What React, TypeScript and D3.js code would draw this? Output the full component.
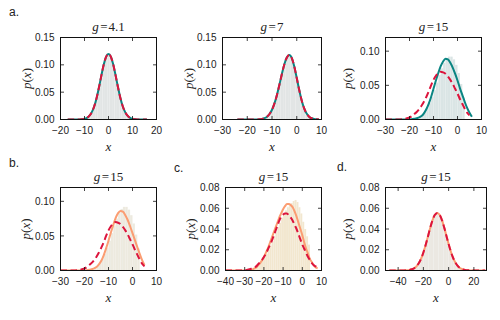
import React from 'react';
import * as d3 from 'd3';

// ---- data (p(x) values on integer / even grids) ----

// a. g = 4.1
const gridA1 = d3.range(-17, 17);
const densA1 = [0, 0, 0, 0, 0.0001, 0.0002, 0.0005, 0.0013, 0.003, 0.0066, 0.013, 0.0234, 0.0386, 0.0581, 0.0798, 0.1001, 0.1147, 0.12, 0.1147, 0.1001, 0.0798, 0.0581, 0.0386, 0.0234, 0.013, 0.0066, 0.003, 0.0013, 0.0005, 0.0002, 0.0001, 0, 0, 0];

// a. g = 7
const gridA2 = d3.range(-24, 10);
const densA2 = [0, 0, 0, 0, 0, 0, 0, 0.0001, 0.0002, 0.0005, 0.0011, 0.0025, 0.0052, 0.01, 0.0178, 0.0294, 0.045, 0.0637, 0.0834, 0.1011, 0.1135, 0.118, 0.1124, 0.0971, 0.076, 0.054, 0.0348, 0.0203, 0.0108, 0.0052, 0.0023, 0.0009, 0.0003, 0.0001];

// g = 15 (a. teal fit, b. orange fit, shared dashed reference and histogram)
const gridFitA3 = d3.range(-30, 7);
const fitA3 = [0, 0, 0, 0, 0, 0, 0, 0, 0, 0, 0, 0.0005, 0.001, 0.002, 0.003, 0.005, 0.009, 0.015, 0.023, 0.033, 0.045, 0.057, 0.068, 0.078, 0.085, 0.089, 0.088, 0.083, 0.076, 0.067, 0.057, 0.046, 0.036, 0.026, 0.017, 0.01, 0.004];
const gridFitB = d3.range(-30, 6);
const fitB = [0, 0, 0, 0, 0, 0, 0, 0, 0, 0, 0, 0.0005, 0.001, 0.002, 0.003, 0.005, 0.009, 0.014, 0.022, 0.032, 0.043, 0.055, 0.066, 0.076, 0.083, 0.086, 0.085, 0.08, 0.073, 0.064, 0.054, 0.044, 0.034, 0.024, 0.015, 0.008];
const gridRef15 = d3.range(-30, 6);
const ref15 = [0, 0, 0, 0, 0, 0, 0, 0.0005, 0.001, 0.002, 0.003, 0.005, 0.008, 0.011, 0.015, 0.02, 0.026, 0.033, 0.041, 0.05, 0.058, 0.064, 0.068, 0.07, 0.069, 0.067, 0.063, 0.058, 0.052, 0.045, 0.038, 0.03, 0.023, 0.016, 0.01, 0.006];
const histEdges15 = d3.range(-18, 3);
const hist15 = [0.001, 0.002, 0.004, 0.007, 0.011, 0.017, 0.024, 0.033, 0.043, 0.054, 0.065, 0.075, 0.083, 0.089, 0.092, 0.092, 0.088, 0.08, 0.068, 0.052, 0.032];

// c. g = 15
const gridC = d3.range(-40, 9);
const fitC = [0, 0, 0, 0, 0, 0, 0, 0, 0, 0, 0, 0, 0, 0.0005, 0.001, 0.002, 0.003, 0.005, 0.007, 0.01, 0.013, 0.017, 0.021, 0.026, 0.031, 0.036, 0.041, 0.046, 0.051, 0.055, 0.059, 0.062, 0.064, 0.064, 0.063, 0.061, 0.057, 0.052, 0.046, 0.04, 0.034, 0.027, 0.021, 0.016, 0.011, 0.008, 0.005, 0.003, 0.002];
const refC = [0, 0, 0, 0, 0, 0, 0, 0, 0, 0, 0, 0.0005, 0.001, 0.0015, 0.002, 0.003, 0.004, 0.006, 0.008, 0.01, 0.013, 0.016, 0.02, 0.024, 0.028, 0.033, 0.038, 0.043, 0.048, 0.052, 0.054, 0.055, 0.055, 0.053, 0.051, 0.048, 0.044, 0.04, 0.035, 0.03, 0.025, 0.021, 0.017, 0.013, 0.01, 0.007, 0.005, 0.004, 0.003];
const histEdgesC = d3.range(-27, 4);
const histC = [0.001, 0.002, 0.003, 0.004, 0.006, 0.008, 0.01, 0.013, 0.016, 0.02, 0.024, 0.028, 0.033, 0.037, 0.042, 0.046, 0.051, 0.055, 0.058, 0.061, 0.063, 0.065, 0.067, 0.068, 0.066, 0.061, 0.055, 0.047, 0.04, 0.033, 0.025];

// d. g = 15
const gridD = d3.range(-47, 30, 2);
const densD = [0, 0, 0, 0, 0, 0, 0.0001, 0.0002, 0.0005, 0.0012, 0.0024, 0.0047, 0.0084, 0.0138, 0.0212, 0.0299, 0.0392, 0.0476, 0.0534, 0.0555, 0.0534, 0.0476, 0.0392, 0.0299, 0.0212, 0.0138, 0.0084, 0.0047, 0.0024, 0.0012, 0.0005, 0.0002, 0.0001, 0, 0, 0, 0, 0, 0];

// tick values
const xTicksA1 = [-20, -10, 0, 10, 20];
const xTicks30 = [-30, -20, -10, 0, 10];
const xTicksC = [-40, -30, -20, -10, 0, 10];
const xTicksD = [-40, -20, 0, 20];
const yTicks15 = [0, 0.05, 0.1, 0.15];
const yTicks12 = [0, 0.05, 0.1];
const yTicks08 = [0, 0.02, 0.04, 0.06, 0.08];

const TEAL = '#0a8582';
const RED = '#dc143c';
const ORANGE = '#fb9d72';

const zip = (xs: number[], ys: number[]) => xs.map((v, i) => [v, ys[i]] as [number, number]);

type PanelSpec = {
  id: string;
  title: string;
  left: number; right: number; top: number; bottom: number;
  xDomain: [number, number]; yMax: number;
  xTicks: number[]; yTicks: number[]; yFmt: string;
  hist: { edges: number[]; width: number; values: number[]; color: string };
  solid: { pts: [number, number][]; color: string };
  dashed: [number, number][];
  ylabOff: number;
};

const panels: PanelSpec[] = [
  {
    id: 'a1', title: '4.1', left: 60.5, right: 156.5, top: 37.5, bottom: 119.5,
    xDomain: [-20, 20], yMax: 0.15, xTicks: xTicksA1, yTicks: yTicks15, yFmt: '.2f',
    hist: { edges: gridA1.map((v) => v - 0.5), width: 1, values: densA1, color: '#e2e5e5' },
    solid: { pts: zip(gridA1, densA1), color: TEAL }, dashed: zip(gridA1, densA1), ylabOff: 30,
  },
  {
    id: 'a2', title: '7', left: 222.5, right: 321.5, top: 37.5, bottom: 119.5,
    xDomain: [-30, 10], yMax: 0.15, xTicks: xTicks30, yTicks: yTicks15, yFmt: '.2f',
    hist: { edges: gridA2.map((v) => v - 0.5), width: 1, values: densA2, color: '#e2e5e5' },
    solid: { pts: zip(gridA2, densA2), color: TEAL }, dashed: zip(gridA2, densA2), ylabOff: 30,
  },
  {
    id: 'a3', title: '15', left: 385.5, right: 481.5, top: 37.5, bottom: 119.5,
    xDomain: [-30, 10], yMax: 0.12, xTicks: xTicks30, yTicks: yTicks12, yFmt: '.2f',
    hist: { edges: histEdges15, width: 1, values: hist15, color: '#dae5e5' },
    solid: { pts: zip(gridFitA3, fitA3), color: TEAL }, dashed: zip(gridRef15, ref15), ylabOff: 34,
  },
  {
    id: 'b', title: '15', left: 60.5, right: 156.5, top: 187.5, bottom: 270.5,
    xDomain: [-30, 10], yMax: 0.12, xTicks: xTicks30, yTicks: yTicks12, yFmt: '.2f',
    hist: { edges: histEdges15, width: 1, values: hist15, color: '#edeadf' },
    solid: { pts: zip(gridFitB, fitB), color: ORANGE }, dashed: zip(gridRef15, ref15), ylabOff: 31,
  },
  {
    id: 'c', title: '15', left: 225.5, right: 321.5, top: 187.5, bottom: 270.5,
    xDomain: [-40, 10], yMax: 0.08, xTicks: xTicksC, yTicks: yTicks08, yFmt: '.2f',
    hist: { edges: histEdgesC, width: 1, values: histC, color: '#f2e7cf' },
    solid: { pts: zip(gridC, fitC), color: ORANGE }, dashed: zip(gridC, refC), ylabOff: 31,
  },
  {
    id: 'd', title: '15', left: 385.5, right: 486.5, top: 187.5, bottom: 270.5,
    xDomain: [-50, 30], yMax: 0.08, xTicks: xTicksD, yTicks: yTicks08, yFmt: '.2f',
    hist: { edges: gridD.map((v) => v - 1), width: 2, values: densD, color: '#ebe8e2' },
    solid: { pts: zip(gridD, densD), color: ORANGE }, dashed: zip(gridD, densD), ylabOff: 34,
  },
];

const SANS = '"Liberation Sans", Arial, sans-serif';
const SERIF = '"Liberation Serif", "Times New Roman", serif';

function Panel({ p }: { p: PanelSpec }) {
  const x = d3.scaleLinear().domain(p.xDomain).range([p.left, p.right]);
  const y = d3.scaleLinear().domain([0, p.yMax]).range([p.bottom, p.top]);
  const line = d3
    .line<[number, number]>()
    .x((d) => x(d[0]))
    .y((d) => y(d[1]))
    .curve(d3.curveMonotoneX);
  const fmtY = d3.format(p.yFmt);
  const fmtX = d3.format('d');
  const cx = (p.left + p.right) / 2;
  const cy = (p.top + p.bottom) / 2;
  const tl = 3.5;

  return (
    <g>
      <defs>
        <clipPath id={`clip-${p.id}`}>
          <rect x={p.left} y={p.top} width={p.right - p.left} height={p.bottom - p.top} />
        </clipPath>
      </defs>
      <g clipPath={`url(#clip-${p.id})`}>
        {p.hist.edges.map((e, i) => (
          <rect
            key={i}
            x={x(e)}
            y={y(p.hist.values[i])}
            width={x(e + p.hist.width) - x(e)}
            height={y(0) - y(p.hist.values[i])}
            fill={p.hist.color}
            stroke="#ffffff"
            strokeOpacity={0.12}
            strokeWidth={0.4}
          />
        ))}
        <path d={line(p.solid.pts) ?? ''} fill="none" stroke={p.solid.color} strokeWidth={2} />
        <path d={line(p.dashed) ?? ''} fill="none" stroke={RED} strokeWidth={2} strokeDasharray="6.5,3.5" />
      </g>
      <rect x={p.left} y={p.top} width={p.right - p.left} height={p.bottom - p.top} fill="none" stroke="#111" strokeWidth={1} />
      {p.xTicks.map((t) => (
        <g key={`x${t}`}>
          <line x1={x(t)} x2={x(t)} y1={p.bottom} y2={p.bottom - tl} stroke="#111" strokeWidth={0.8} />
          <line x1={x(t)} x2={x(t)} y1={p.top} y2={p.top + tl} stroke="#111" strokeWidth={0.8} />
          <text x={x(t)} y={p.bottom + 14} textAnchor="middle" fontFamily={SANS} fontSize={10} fill="#222">
            {fmtX(t)}
          </text>
        </g>
      ))}
      {p.yTicks.map((t) => (
        <g key={`y${t}`}>
          <line x1={p.left} x2={p.left + tl} y1={y(t)} y2={y(t)} stroke="#111" strokeWidth={0.8} />
          <line x1={p.right} x2={p.right - tl} y1={y(t)} y2={y(t)} stroke="#111" strokeWidth={0.8} />
          <text x={p.left - 6} y={y(t) + 3.6} textAnchor="end" fontFamily={SANS} fontSize={10} fill="#222">
            {fmtY(t)}
          </text>
        </g>
      ))}
      <text x={cx} y={p.top - 7} textAnchor="middle" fontFamily={SERIF} fontSize={13} fill="#222">
        <tspan fontStyle="italic">g</tspan>
        <tspan dx={1.5}>=</tspan>
        <tspan dx={1}>{p.title}</tspan>
      </text>
      <text x={cx} y={p.bottom + 31} textAnchor="middle" fontFamily={SERIF} fontSize={13} fontStyle="italic" fill="#222">
        x
      </text>
      <text
        transform={`translate(${p.left - p.ylabOff},${cy}) rotate(-90)`}
        textAnchor="middle"
        fontFamily={SERIF}
        fontSize={13}
        fill="#222"
      >
        <tspan fontStyle="italic">p</tspan>(<tspan fontStyle="italic">x</tspan>)
      </text>
    </g>
  );
}

const panelTags = [
  { tag: 'a.', x: 9, y: 16 },
  { tag: 'b.', x: 9, y: 167 },
  { tag: 'c.', x: 174, y: 172 },
  { tag: 'd.', x: 337, y: 171 },
];

export default function App() {
  return (
    <svg
      width={500}
      height={320}
      viewBox="0 0 500 320"
      style={{ position: 'absolute', left: 0, top: 0, background: '#fff' }}
    >
      {panelTags.map((t) => (
        <text key={t.tag} x={t.x} y={t.y} fontFamily={SANS} fontSize={12} fill="#222">
          {t.tag}
        </text>
      ))}
      {panels.map((p) => (
        <Panel key={p.id} p={p} />
      ))}
    </svg>
  );
}
